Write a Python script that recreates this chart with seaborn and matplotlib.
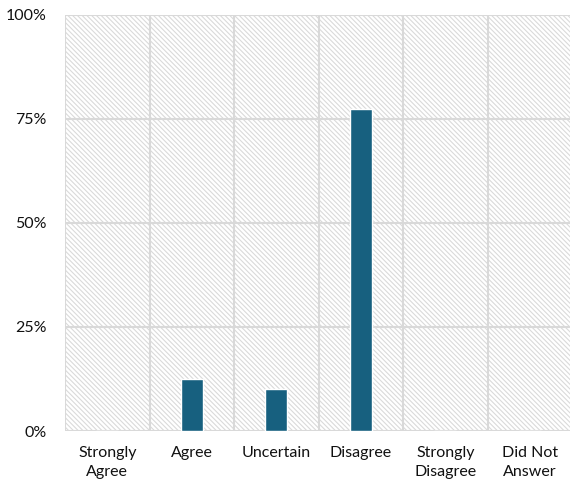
import matplotlib
matplotlib.use("Agg")
import matplotlib.pyplot as plt
import seaborn as sns
import pandas as pd
from matplotlib.patches import Rectangle
from matplotlib.ticker import FixedLocator

categories = ["Strongly\nAgree", "Agree", "Uncertain", "Disagree", "Strongly\nDisagree", "Did Not\nAnswer"]
values = [0.0, 12.5, 10.0, 77.5, 0.0, 0.0]
yticks = [0, 25, 50, 75, 100]
ytick_labels = ["0%", "25%", "50%", "75%", "100%"]

sns.set_theme(style="white")
plt.rcParams['font.family'] = ['Lato', 'DejaVu Sans']
plt.rcParams['hatch.linewidth'] = 0.8

df = pd.DataFrame({"cat": categories, "val": values})

fig = plt.figure(figsize=(5.7, 4.9), dpi=100)
ax = fig.add_axes([65/570, 1-431/490, 507/570, 416/490])

bg = Rectangle((0, 0), 1, 1, transform=ax.transAxes, facecolor="white",
               edgecolor="#dadada", hatch="\\" * 7, linewidth=0, zorder=0)
ax.add_patch(bg)
ax.patch.set_visible(False)

sns.barplot(data=df, x="cat", y="val", color="#17607F", width=0.26,
            saturation=1, ax=ax, zorder=3)

ax.set_xlim(-0.5, 5.5)
ax.set_ylim(0, 100)
ax.set_yticks(yticks)
ax.set_yticklabels(ytick_labels)
ax.xaxis.set_minor_locator(FixedLocator([i - 0.5 for i in range(7)]))
ax.grid(axis="y", which="major", color="#d9d9d9", linewidth=1.5, zorder=1)
ax.grid(axis="x", which="minor", color="#d9d9d9", linewidth=1.5, zorder=1)
ax.grid(axis="x", which="major", visible=False)
ax.set_axisbelow(True)
for s in ax.spines.values():
    s.set_visible(False)
ax.tick_params(axis="both", which="both", length=0)
ax.tick_params(axis="y", pad=13, labelsize=11.5, labelcolor="#111111")
ax.tick_params(axis="x", pad=11, labelsize=11.5, labelcolor="#111111")
for lbl in ax.get_xticklabels():
    lbl.set_linespacing(1.45)
ax.set_xlabel("")
ax.set_ylabel("")

fig.savefig("out.png", dpi=100)
